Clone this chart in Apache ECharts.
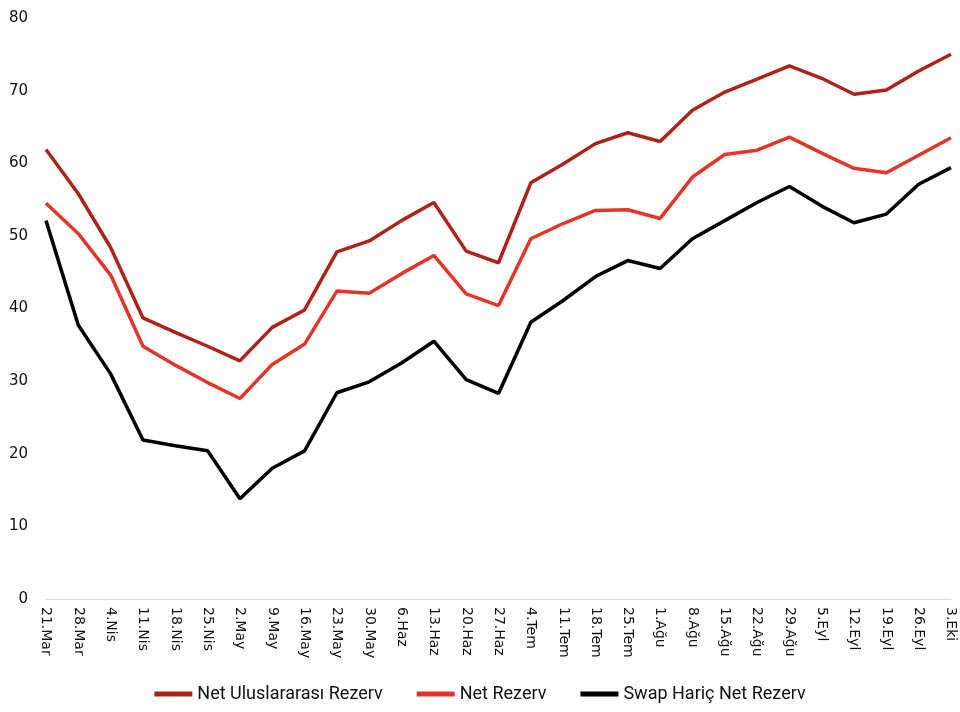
<!DOCTYPE html>
<html><head><meta charset="utf-8">
<script src="https://cdn.jsdelivr.net/npm/echarts@6/dist/echarts.min.js"></script>
<style>html,body{margin:0;padding:0;background:#fff}#c{width:960px;height:712px}</style>
</head><body><div id="c"></div>
<script>
const categories = ['21.Mar','28.Mar','4.Nis','11.Nis','18.Nis','25.Nis','2.May','9.May','16.May','23.May','30.May','6.Haz','13.Haz','20.Haz','27.Haz','4.Tem','11.Tem','18.Tem','25.Tem','1.Ağu','8.Ağu','15.Ağu','22.Ağu','29.Ağu','5.Eyl','12.Eyl','19.Eyl','26.Eyl','3.Eki'];
const netUluslararasi = [61.9,55.8,48.4,38.7,36.7,34.8,32.8,37.4,39.8,47.8,49.3,52.1,54.6,47.9,46.3,57.3,59.9,62.7,64.2,63.0,67.3,69.8,71.6,73.4,71.7,69.5,70.1,72.7,75.0];
const netRezerv = [54.5,50.3,44.6,34.8,32.2,29.8,27.6,32.3,35.1,42.4,42.1,44.8,47.3,42.0,40.4,49.6,51.7,53.5,53.6,52.4,58.1,61.2,61.8,63.6,61.4,59.3,58.7,61.1,63.5];
const swapHaric = [52.1,37.7,31.0,21.9,21.1,20.4,13.8,18.0,20.4,28.4,29.9,32.5,35.5,30.2,28.3,38.1,41.1,44.4,46.6,45.5,49.6,52.1,54.6,56.8,54.1,51.8,53.0,57.1,59.4];
const seriesNames = ['Net Uluslararası Rezerv','Net Rezerv','Swap Hariç Net Rezerv'];
const colors = ['#AD2219','#E5352A','#000000'];

const chart = echarts.init(document.getElementById('c'), null, {renderer:'canvas'});
const mk = (name, data, color) => ({
  name, type:'line', data, symbol:'none', smooth:false,
  lineStyle:{width:3.5, color}, itemStyle:{color}
});
chart.setOption({
  animation:false,
  grid:{left:46, right:9, top:18, bottom:113, containLabel:false},
  legend:{
    bottom:4, left:'center', icon:'rect', itemWidth:38, itemHeight:5, itemGap:34,
    textStyle:{fontFamily:'Roboto', fontSize:18, color:'#111'},
    data:seriesNames
  },
  xAxis:{
    type:'category', data:categories, boundaryGap:false,
    axisLine:{show:true, lineStyle:{color:'#d9d9d9', width:1}},
    axisTick:{show:false},
    axisLabel:{rotate:-90, interval:0, fontSize:14, color:'#111', margin:8, fontFamily:'"DejaVu Sans", sans-serif'}
  },
  yAxis:{
    type:'value', min:0, max:80, interval:10,
    splitLine:{show:false}, axisLine:{show:false}, axisTick:{show:false},
    axisLabel:{fontSize:15, color:'#111', margin:18, fontFamily:'"DejaVu Sans", sans-serif'}
  },
  series:[
    mk(seriesNames[0], netUluslararasi, colors[0]),
    mk(seriesNames[1], netRezerv, colors[1]),
    mk(seriesNames[2], swapHaric, colors[2])
  ]
});
</script></body></html>
